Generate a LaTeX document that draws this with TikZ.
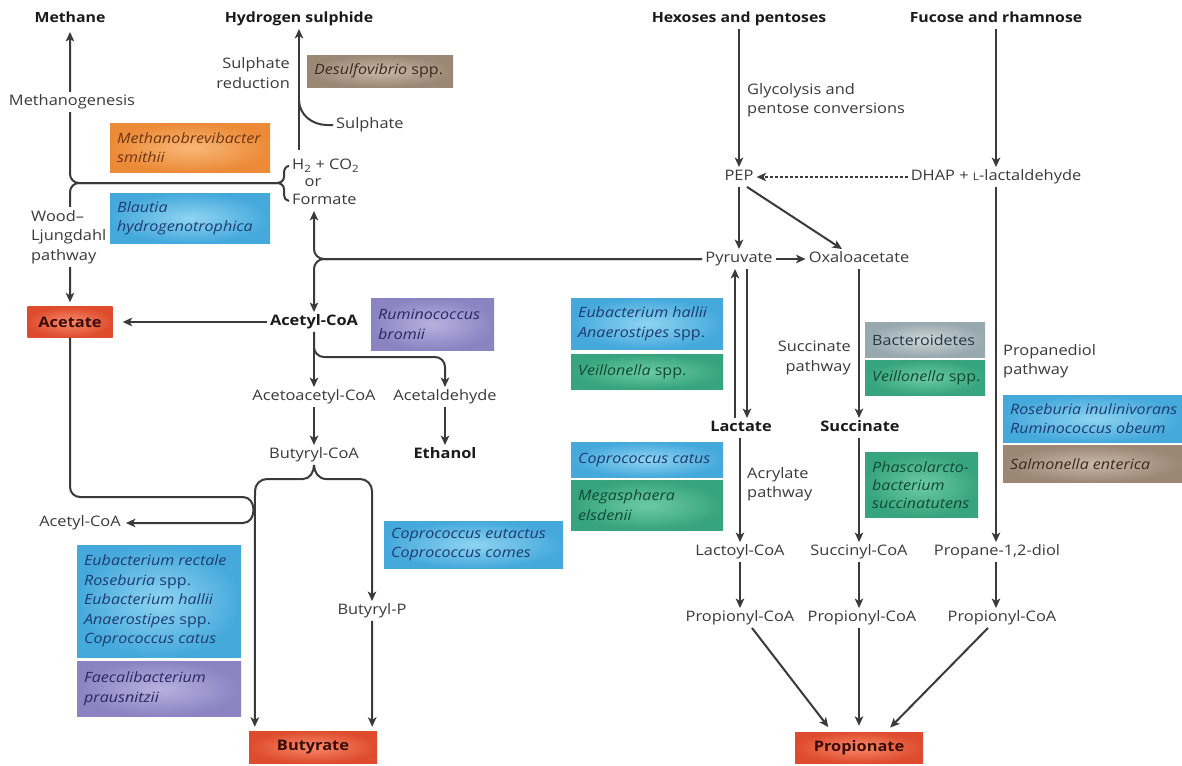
\documentclass[tikz,border=0pt]{standalone}
\usepackage{fontspec}
\setmainfont{Open Sans}[FakeStretch=1.13]
\usetikzlibrary{arrows.meta,calc}
\definecolor{lc}{HTML}{3A3A3A}
\definecolor{txt}{HTML}{3A3A3A}
\definecolor{ttxt}{HTML}{1A1A1A}
\definecolor{bluein}{HTML}{8FD4F2}\definecolor{blueout}{HTML}{45A9DC}\definecolor{blueboxtxt}{HTML}{1D3C70}
\definecolor{greenin}{HTML}{6CC9A8}\definecolor{greenout}{HTML}{36A47E}\definecolor{greenboxtxt}{HTML}{0F4A36}
\definecolor{orangein}{HTML}{F8B877}\definecolor{orangeout}{HTML}{EC8A38}\definecolor{orangeboxtxt}{HTML}{6F350C}
\definecolor{brownin}{HTML}{C9B9A9}\definecolor{brownout}{HTML}{9C8674}\definecolor{brownboxtxt}{HTML}{3B2A1F}
\definecolor{purplein}{HTML}{B8B1DE}\definecolor{purpleout}{HTML}{8C83C2}\definecolor{purpleboxtxt}{HTML}{2C2662}
\definecolor{grayin}{HTML}{CDD6D9}\definecolor{grayout}{HTML}{97A8AE}\definecolor{grayboxtxt}{HTML}{223A44}
\definecolor{redin}{HTML}{F7896A}\definecolor{redout}{HTML}{DE4C2D}\definecolor{redtxt}{HTML}{3A0C04}
\tikzset{
  every node/.style={font=\fontsize{14.5}{19.5}\selectfont, text=txt},
  lbl/.style={inner sep=3pt, text height=10.5pt, text depth=3pt},
  mlbl/.style={inner sep=3pt},
  ttl/.style={font=\fontsize{14}{18}\selectfont\bfseries, text=ttxt, inner sep=3pt, text height=10.5pt, text depth=3pt},
  bld/.style={font=\fontsize{14.5}{18}\selectfont\bfseries, text=ttxt, inner sep=3pt, text height=10.5pt, text depth=3pt},
  ln/.style={draw=lc, line width=2pt},
  arr/.style={-{Stealth[length=9.5pt,width=8.5pt,inset=2.5pt]}},
  sptxt/.style={font=\fontsize{14.2}{19.5}\selectfont\itshape, align=left, inner sep=0pt},
  bluebox/.style={inner color=bluein, outer color=blueout, inner sep=0pt},
  greenbox/.style={inner color=greenin, outer color=greenout, inner sep=0pt},
  orangebox/.style={inner color=orangein, outer color=orangeout, inner sep=0pt},
  brownbox/.style={inner color=brownin, outer color=brownout, inner sep=0pt},
  purplebox/.style={inner color=purplein, outer color=purpleout, inner sep=0pt},
  graybox/.style={inner color=grayin, outer color=grayout, inner sep=0pt},
  redbox/.style={inner color=redin, outer color=redout, inner sep=0pt, text=redtxt, font=\fontsize{14.5}{18}\selectfont\bfseries},
  whitelbl/.style={fill=white, inner sep=3pt},
}
\newcommand\spbox[7]{%
  \node[#2, anchor=north west, minimum width=#5pt, minimum height=#6pt] (#1) at (#3,#4) {};
  \node[sptxt, text=#2txt, anchor=west] (#1t) at ([xshift=7pt]#1.west) {#7};
}
\begin{document}
\begin{tikzpicture}[x=1pt,y=-1pt]
\useasboundingbox (0,0) rectangle (1182,765);
\fill[white] (0,0) rectangle (1182,765);

% titles
\node[ttl] (methane) at (70,19) {Methane};
\node[ttl] (h2s) at (299,19) {Hydrogen sulphide};
\node[ttl] (hex) at (739,19) {Hexoses and pentoses};
\node[ttl] (fuc) at (996,19) {Fucose and rhamnose};

% species boxes
\spbox{dsv}{brownbox}{307}{55}{146}{32}{Desulfovibrio {\upshape spp.}}
\spbox{mbs}{orangebox}{110}{123}{160}{49}{Methanobrevibacter\\smithii}
\spbox{bht}{bluebox}{110}{193}{160}{50}{Blautia\\hydrogenotrophica}
\spbox{rbr}{purplebox}{371}{298}{123}{52}{Ruminococcus\\bromii}
\spbox{eha}{bluebox}{571}{298}{152}{51}{Eubacterium hallii\\Anaerostipes {\upshape spp.}}
\spbox{vei}{greenbox}{571}{354}{152}{35}{Veillonella {\upshape spp.}}
\spbox{cca}{bluebox}{571}{442}{152}{35}{Coprococcus catus}
\spbox{mel}{greenbox}{571}{480}{152}{50}{Megasphaera\\elsdenii}
\spbox{bac}{graybox}{865}{322}{120}{35}{{\upshape Bacteroidetes}}
\spbox{veib}{greenbox}{865}{360}{120}{35}{Veillonella {\upshape spp.}}
\spbox{phs}{greenbox}{865}{452}{113}{65}{Phascolarcto-\\[-1.5pt]bacterium\\[-1.5pt]succinatutens}
\spbox{rin}{bluebox}{1003}{395}{179}{47}{Roseburia inulinivorans\\Ruminococcus obeum}
\spbox{sal}{brownbox}{1003}{445}{179}{37}{Salmonella enterica}
\spbox{cec}{bluebox}{384}{521}{179}{47}{Coprococcus eutactus\\Coprococcus comes}
\spbox{ere}{bluebox}{77}{545}{164}{112}{Eubacterium rectale\\Roseburia {\upshape spp.}\\Eubacterium hallii\\Anaerostipes {\upshape spp.}\\Coprococcus catus}
\spbox{fpr}{purplebox}{77}{661}{164}{55}{Faecalibacterium\\prausnitzii}

% product boxes
\node[redbox, minimum width=85pt, minimum height=31pt] (acetate) at (70,322) {Acetate};
\node[redbox, minimum width=128pt, minimum height=32pt] (but) at (313,747) {Butyrate};
\node[redbox, minimum width=128pt, minimum height=31pt] (prop) at (859,747.5) {Propionate};

% left labels
\node[lbl, anchor=west] (h2) at (289,166) {H\textsubscript{2} + CO\textsubscript{2}};
\node[lbl] (orr) at (313,183) {or};
\node[lbl, anchor=west] (form) at (289,201) {Formate};
\node[lbl, anchor=west] (sulph) at (333,125) {Sulphate};
\node[mlbl, anchor=east, align=right] (sred) at (293,73) {Sulphate\\reduction};
\node[bld] (acoa) at (314,322) {Acetyl-CoA};
\node[lbl] (aca) at (314,397) {Acetoacetyl-CoA};
\node[lbl] (ald) at (445,397) {Acetaldehyde};
\node[lbl] (bcoa) at (314,455) {Butyryl-CoA};
\node[bld] (eth) at (445,455) {Ethanol};
\node[lbl] (acoab) at (80,523) {Acetyl-CoA};
\node[lbl] (bp) at (372,611) {Butyryl-P};

% right labels
\node[lbl] (pep) at (739,177) {PEP};
\node[lbl] (dhap) at (996,177) {DHAP + {\fontsize{10.5}{12}\selectfont L}-lactaldehyde};
\node[lbl] (pyr) at (739,259) {Pyruvate};
\node[lbl] (oxa) at (859,259) {Oxaloacetate};
\node[mlbl, anchor=west, align=left] (gly) at (744,100) {Glycolysis and\\pentose conversions};
\node[bld] (lac) at (741,428) {Lactate};
\node[bld] (suc) at (860,428) {Succinate};
\node[mlbl, anchor=east, align=right] (sucp) at (854,358) {Succinate\\pathway};
\node[mlbl, anchor=west, align=left] (acr) at (744,484) {Acrylate\\pathway};
\node[mlbl, anchor=west, align=left] (prp) at (1000,361) {Propanediol\\pathway};
\node[lbl] (lcoa) at (740,552) {Lactoyl-CoA};
\node[lbl] (scoa) at (859,552) {Succinyl-CoA};
\node[lbl] (pdiol) at (997,552) {Propane-1,2-diol};
\node[lbl] (pca) at (740,618) {Propionyl-CoA};
\node[lbl] (pcb) at (862,618) {Propionyl-CoA};
\node[lbl] (pcc) at (1002,618) {Propionyl-CoA};

% ---- connectors, left part
\coordinate (brM) at (277,183);
\coordinate (sj) at (299,100);
\coordinate (br1) at (445,357);
\draw[ln,arr,rounded corners=9pt,shorten >=3pt] (brM) -| (methane.south);
\draw[ln,arr,rounded corners=9pt,shorten >=4pt] (brM) -| (acetate.north);
\draw[ln] (h2.west) to[out=180,in=90] (284,173) -- (284,177) to[out=-90,in=0] (brM);
\draw[ln] (form.west) to[out=180,in=-90] (284,195) -- (284,189) to[out=90,in=0] (brM);
\draw[ln,arr,shorten <=6pt] (h2s.south |- h2.north) -- (h2s.south);
\draw[ln] (sulph.west) -- ++(-6,0) to[out=180,in=-90] (sj);
\draw[ln,arr,rounded corners=10pt] (pyr.west) -| (acoa.north);
\draw[ln,arr,rounded corners=10pt] (pyr.west) -| (acoa.north |- form.south);
\draw[ln,arr,shorten >=10pt] (acoa) -- (acetate);
\draw[ln,arr] (acoa) -- (aca);
\draw[ln,arr,rounded corners=10pt] (acoa.south) |- (br1) -- (ald.north);
\draw[ln,arr] (ald) -- (eth);
\draw[ln,arr] (aca) -- (bcoa);
\draw[ln,arr,shorten >=4pt] (bcoa.south) to[out=-90,in=0] (303,479) -- (267,479) to[out=180,in=90] (255,491) -- ([xshift=6pt]but.north west);
\draw[ln,arr] (bcoa.south) to[out=-90,in=180] (326,479) -- (360,479) to[out=0,in=90] (372,491) -- (bp.north);
\draw[ln,arr,shorten >=4pt] (bp) -- ([xshift=-5pt]but.north east);
\draw[ln,arr,shorten >=2pt] (acetate.south) -- (70,487) to[out=-90,in=180] (80,497) -- (243,497) .. controls (257,497) and (257,523) .. (243,523) -- (acoab.east);

% white labels over lines
\node[mlbl, whitelbl] (mgen) at (72,102) {Methanogenesis};
\node[mlbl, whitelbl, align=left, anchor=west] (wl) at (28,237) {Wood–\\Ljungdahl\\pathway};

% ---- connectors, right part
\draw[ln,arr] (hex) -- (pep);
\draw[ln,arr] (fuc) -- (dhap);
\draw[draw=lc, line width=1.4pt, dash pattern=on 3pt off 2pt, arr] (dhap) -- (pep);
\draw[ln,arr] (pep) -- (pyr);
\draw[ln,arr] ([xshift=8pt]pep.south) -- ([xshift=-17pt]oxa.north);
\draw[ln,arr] (pyr) -- (oxa);
\draw[ln,arr] ([xshift=-6pt]lac.north) -- ([xshift=-4pt]pyr.south);
\draw[ln,arr] ([xshift=8pt]pyr.south) -- ([xshift=6pt]lac.north);
\draw[ln,arr] (oxa.south) -- ([xshift=-1pt]suc.north);
\draw[ln,arr] ([xshift=-1pt]lac.south) -- (lcoa.north);
\draw[ln,arr] ([xshift=-1pt]suc.south) -- (scoa.north);
\draw[ln,arr] (dhap.south) -- (pdiol.north -| dhap.south);
\draw[ln,arr] (lcoa) -- (pca);
\draw[ln,arr] (scoa.south) -- ([xshift=-3pt]pcb.north);
\draw[ln,arr] (pdiol.south -| dhap.south) -- (pcc.north -| dhap.south);
\draw[ln,arr,shorten >=6pt] ([xshift=12pt]pca.south) -- ([xshift=-27pt]prop.north);
\draw[ln,arr,shorten >=6pt] ([xshift=-3pt]pcb.south) -- (prop.north);
\draw[ln,arr,shorten >=6pt] ([xshift=-14pt]pcc.south) -- ([xshift=27pt]prop.north);
\end{tikzpicture}
\end{document}
